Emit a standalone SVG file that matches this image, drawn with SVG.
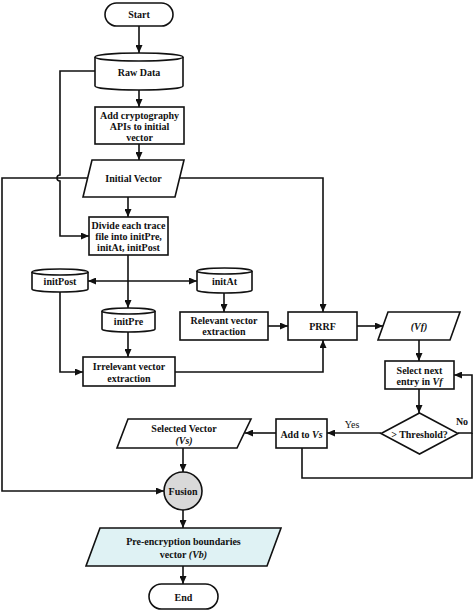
<svg xmlns="http://www.w3.org/2000/svg" width="474" height="611" viewBox="0 0 474 611">
<defs>
<marker id="ah" markerUnits="userSpaceOnUse" markerWidth="8" markerHeight="7" refX="8" refY="3.5" orient="auto">
<path d="M0,0 L8,3.5 L0,7 z" fill="#111"/>
</marker>
<style>
.s{fill:#fff;stroke:#111;stroke-width:1.6}
.c{fill:none;stroke:#111;stroke-width:1.6}
.a{marker-end:url(#ah)}
text{font-family:"Liberation Serif","Times New Roman",serif;font-weight:bold;font-size:10px;fill:#111;text-anchor:middle;dominant-baseline:central}
.i{font-style:italic}
</style>
</defs>
<rect x="0" y="0" width="474" height="611" fill="#fff"/>
<g id="connectors">
<path class="c a" d="M139,26 V53"/>
<path class="c a" d="M139,90 V107"/>
<path class="c a" d="M139,144 V160"/>
<path class="c a" d="M128,197 V217"/>
<path class="c a" d="M95,71 H60 V175 A3,3 0 0 0 60,181 V236 H89"/>
<path class="c a" d="M87,178 H2 V491 H164"/>
<path class="c a" d="M179,178 H323 V312"/>
<path class="c a" d="M128,255 V308"/>
<path class="c a" d="M128,281 H88"/>
<path class="c a" d="M128,281 H197"/>
<path class="c a" d="M60,292 V372 H83"/>
<path class="c a" d="M128,332 V357"/>
<path class="c a" d="M175,372 H323 V340"/>
<path class="c a" d="M224,293 V312"/>
<path class="c a" d="M268,326 H288"/>
<path class="c a" d="M357,326 H383"/>
<path class="c a" d="M419,340 V361"/>
<path class="c a" d="M419,389 V413"/>
<path class="c a" d="M458,433 H472 V375 H454"/>
<path class="c a" d="M381,433 H327"/>
<path class="c a" d="M276,433 H245"/>
<path class="c" d="M302,448 V478 H472 V433"/>
<path class="c a" d="M183,448 V472"/>
<path class="c a" d="M183,510 V528"/>
<path class="c a" d="M183,566 V584"/>
<text x="352" y="424" style="font-weight:normal">Yes</text>
<text x="462" y="421">No</text>
</g>
<g id="start">
<rect class="s" x="105" y="3" width="68" height="23" rx="11.5"/>
<text x="139" y="14.5">Start</text>
</g>
<g id="rawdata">
<path class="s" d="M95,57 A44,4 0 0 1 183,57 V86 A44,4 0 0 1 95,86 Z"/>
<path class="c" d="M95,57 A44,4 0 0 0 183,57"/>
<text x="139" y="72">Raw Data</text>
</g>
<g id="addcrypto">
<rect class="s" x="95" y="107" width="89" height="37"/>
<text x="139.5" y="115">Add cryptography</text>
<text x="139.5" y="126">APIs to initial</text>
<text x="139.5" y="137">vector</text>
</g>
<g id="initialvector">
<path class="s" d="M92,160 H184 L175,197 H83 Z"/>
<text x="133.5" y="178.5">Initial Vector</text>
</g>
<g id="divide">
<rect class="s" x="89" y="217" width="79" height="38"/>
<text x="128.5" y="225">Divide each trace</text>
<text x="128.5" y="236">file into initPre,</text>
<text x="128.5" y="247">initAt, initPost</text>
</g>
<g id="initpost">
<path class="s" d="M32,272 A28,3 0 0 1 88,272 V289 A28,3 0 0 1 32,289 Z"/>
<path class="c" d="M32,272 A28,3 0 0 0 88,272"/>
<text x="60" y="281">initPost</text>
</g>
<g id="initpre">
<path class="s" d="M102,311 A26.5,3 0 0 1 155,311 V329 A26.5,3 0 0 1 102,329 Z"/>
<path class="c" d="M102,311 A26.5,3 0 0 0 155,311"/>
<text x="128.5" y="321">initPre</text>
</g>
<g id="initat">
<path class="s" d="M197,271 A27.5,3 0 0 1 252,271 V290 A27.5,3 0 0 1 197,290 Z"/>
<path class="c" d="M197,271 A27.5,3 0 0 0 252,271"/>
<text x="224.5" y="281">initAt</text>
</g>
<g id="irrelevant">
<rect class="s" x="83" y="357" width="92" height="29"/>
<text x="129" y="366">Irrelevant vector</text>
<text x="129" y="378">extraction</text>
</g>
<g id="relevant">
<rect class="s" x="180" y="312" width="88" height="28"/>
<text x="224" y="320">Relevant vector</text>
<text x="224" y="331">extraction</text>
</g>
<g id="prrf">
<rect class="s" x="288" y="312" width="69" height="28"/>
<text x="322.5" y="326">PRRF</text>
</g>
<g id="vf">
<path class="s" d="M388,312 H460 L450,340 H378 Z"/>
<text x="419" y="326" class="i">(Vf)</text>
</g>
<g id="selectnext">
<rect class="s" x="385" y="361" width="69" height="28"/>
<text x="419.5" y="370">Select next</text>
<text x="419.5" y="381">entry in <tspan class="i">Vf</tspan></text>
</g>
<g id="threshold">
<path class="s" d="M419.5,413 L458,433.5 L419.5,454 L381,433.5 Z"/>
<text x="419.5" y="434">&gt; Threshold?</text>
</g>
<g id="addvs">
<rect class="s" x="276" y="419" width="51" height="29"/>
<text x="301.5" y="434">Add to <tspan class="i">Vs</tspan></text>
</g>
<g id="selected">
<path class="s" d="M128,419 H251 L237,448 H117 Z"/>
<text x="184" y="428">Selected Vector</text>
<text x="184" y="440" class="i">(Vs)</text>
</g>
<g id="fusion">
<circle cx="183" cy="491" r="19" fill="#d9d9d9" stroke="#111" stroke-width="1.6"/>
<text x="183" y="491">Fusion</text>
</g>
<g id="preenc">
<path d="M100,528 H281 L267,566 H86 Z" fill="#dff2f4" stroke="#111" stroke-width="1.6"/>
<text x="183.5" y="541">Pre-encryption boundaries</text>
<text x="183.5" y="554">vector <tspan class="i">(Vb)</tspan></text>
</g>
<g id="end">
<rect class="s" x="149" y="584" width="69" height="25" rx="12.5"/>
<text x="183.5" y="597">End</text>
</g>
</svg>
